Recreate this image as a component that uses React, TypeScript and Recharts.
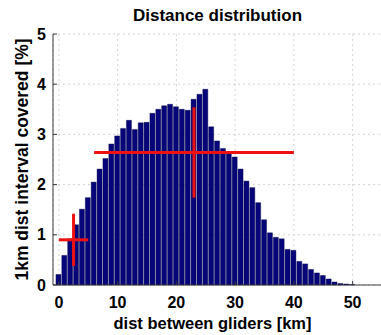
import { Bar, CartesianGrid, ComposedChart, ErrorBar, Label, Scatter, XAxis, YAxis } from 'recharts';

// 1 km distance bins and share of time covered in each [%]
const distKm = [
  0, 1, 2, 3, 4, 5, 6, 7, 8, 9, 10, 11, 12, 13, 14, 15, 16, 17, 18, 19, 20, 21, 22, 23, 24, 25,
  26, 27, 28, 29, 30, 31, 32, 33, 34, 35, 36, 37, 38, 39, 40, 41, 42, 43, 44, 45, 46, 47, 48, 49, 50,
];
const coveredPct = [
  0.21, 0.59, 0.92, 1.2, 1.51, 1.74, 2.05, 2.31, 2.52, 2.81, 2.97, 3.12, 3.28, 3.1, 3.23, 3.24, 3.42,
  3.5, 3.57, 3.6, 3.55, 3.5, 3.48, 3.7, 3.8, 3.9, 3.15, 2.87, 2.72, 2.64, 2.55, 2.31, 2.07, 1.94, 1.64,
  1.3, 1.04, 0.95, 0.92, 0.71, 0.69, 0.47, 0.42, 0.31, 0.24, 0.19, 0.12, 0.06, 0.03, 0.02, 0.01,
];

// red crosses: mean +- spread
const crossX = [2.5, 23];
const crossY = [0.9, 2.64];
const crossXErr = [2.5, 17];
const crossYErr = [0.52, 0.9];

const xTicks = [0, 10, 20, 30, 40, 50];
const yTicks = [0, 1, 2, 3, 4, 5];

const FONT = '"Liberation Sans", Arial, Helvetica, sans-serif';
const AXIS = '#3a3a3a';
const tickStyle = { fill: '#000', fontSize: 16, fontWeight: 700, fontFamily: FONT };
const labelStyle = { fill: '#000', fontWeight: 700, fontFamily: FONT, textAnchor: 'middle' as const };

export default function App() {
  const bars = distKm.map((x, i) => ({ x, pct: coveredPct[i] }));
  const crosses = crossX.map((x, i) => ({ x, y: crossY[i], ex: crossXErr[i], ey: crossYErr[i] }));

  return (
    <div
      style={{
        position: 'absolute',
        left: 0,
        top: 0,
        width: 381,
        height: 335,
        overflow: 'hidden',
        background: '#fff',
        fontFamily: FONT,
      }}
    >
      <div
        style={{
          position: 'absolute',
          left: 53,
          width: 329,
          top: 7,
          lineHeight: '17px',
          textAlign: 'center',
          fontSize: 17,
          fontWeight: 700,
          color: '#000',
        }}
      >
        Distance distribution
      </div>
      <ComposedChart width={384} height={335} data={bars} margin={{ top: 34, right: 2, bottom: 0, left: 0 }}>
        <CartesianGrid stroke="#d4d4d4" strokeDasharray="2 3" />
        <XAxis
          dataKey="x"
          type="number"
          domain={[-1, 55]}
          ticks={xTicks}
          height={50}
          stroke={AXIS}
          tickSize={-4}
          tickMargin={16}
          tick={tickStyle}
        >
          <Label
            value="dist between gliders [km]"
            position="insideBottom"
            offset={6}
            dx={-5}
            style={{ ...labelStyle, fontSize: 16.5 }}
          />
        </XAxis>
        {/* top frame line; also carries the red crosses so they don't narrow the bars */}
        <XAxis
          xAxisId="top"
          dataKey="x"
          type="number"
          orientation="top"
          domain={[-1, 55]}
          ticks={xTicks}
          height={0}
          mirror
          stroke={AXIS}
          tickSize={4}
          tickFormatter={() => ''}
        />
        <YAxis
          type="number"
          domain={[0, 5]}
          ticks={yTicks}
          width={53}
          stroke={AXIS}
          tickSize={-4}
          tickMargin={11}
          tick={tickStyle}
        >
          <Label
            value="1km dist interval covered [%]"
            angle={-90}
            position="insideLeft"
            offset={22}
            style={{ ...labelStyle, fontSize: 17.5 }}
          />
        </YAxis>
        <YAxis
          yAxisId="right"
          type="number"
          orientation="right"
          domain={[0, 5]}
          ticks={yTicks}
          width={0}
          mirror
          stroke={AXIS}
          tickSize={4}
          tickFormatter={() => ''}
        />
        <Bar dataKey="pct" barSize={5} fill="#06067a" stroke="#000044" strokeWidth={0.4} isAnimationActive={false} />
        <Scatter xAxisId="top" data={crosses} dataKey="y" shape={() => <g />} isAnimationActive={false}>
          <ErrorBar dataKey="ex" direction="x" width={0} stroke="#ee1111" strokeWidth={3} isAnimationActive={false} />
          <ErrorBar dataKey="ey" direction="y" width={0} stroke="#ee1111" strokeWidth={3} isAnimationActive={false} />
        </Scatter>
      </ComposedChart>
    </div>
  );
}
